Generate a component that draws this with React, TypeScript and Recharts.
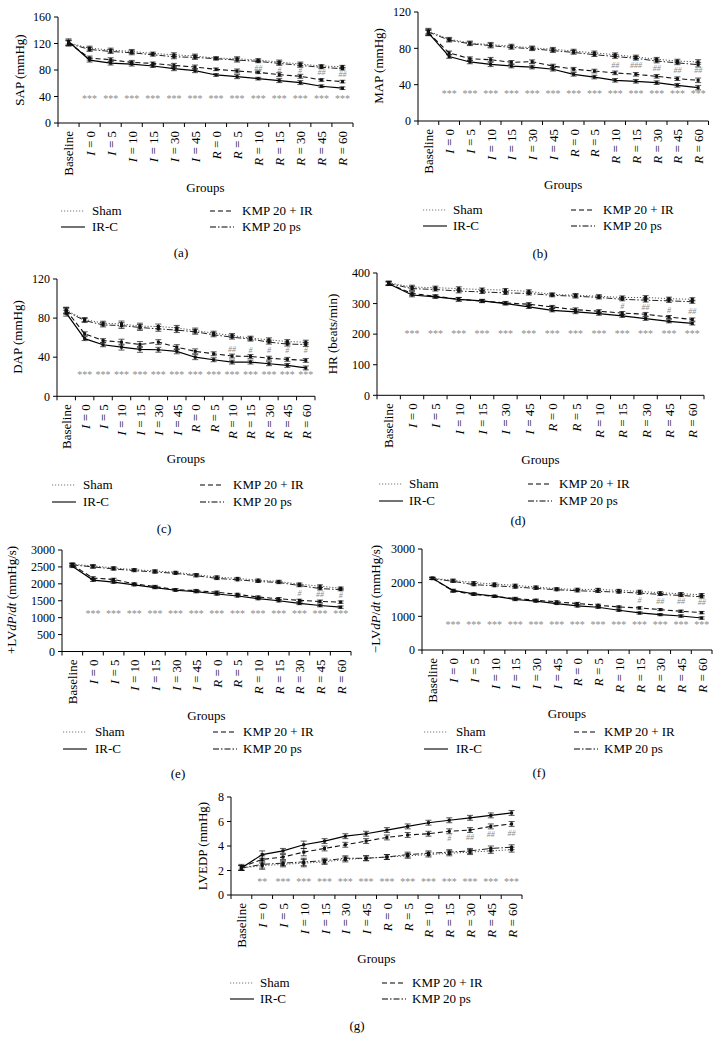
import React from 'react';
import { LineChart, Line, XAxis, YAxis, ErrorBar, LabelList } from 'recharts';

const FONT = '"Liberation Serif", "DejaVu Serif", serif';

const groups = ['Baseline', 'I = 0', 'I = 5', 'I = 10', 'I = 15', 'I = 30', 'I = 45',
  'R = 0', 'R = 5', 'R = 10', 'R = 15', 'R = 30', 'R = 45', 'R = 60'];

const starsAll = ['', '***', '***', '***', '***', '***', '***', '***', '***', '***', '***', '***', '***', '***'];
const starsLvedp = ['', '**', '***', '***', '***', '***', '***', '***', '***', '***', '***', '***', '***', '***'];

// (a) SAP
const sapSham = [121, 113, 110, 108, 105, 103, 101, 98, 97, 95, 92, 89, 86, 85];
const sapKmpPs = [120, 111, 108, 106, 103, 100, 99, 97, 95, 93, 90, 87, 84, 82];
const sapKmpIr = [121, 98, 95.5, 91.5, 90, 87, 84.5, 81, 78.5, 76.5, 73, 70.5, 65, 62.5];
const sapIrc = [123, 95, 90.5, 89, 86, 82, 79, 72.5, 70, 67, 64, 61, 55.5, 52.5];
const sapErr = [4, 3, 3, 3, 2, 3, 3, 2, 3, 2, 3, 3, 2, 2];
const sapHash = ['', '', '', '', '', '', '', '', '', '##', '#', '#', '##', '##'];
const sapHashY = [null, null, null, null, null, null, null, null, null, 82.5, 80, 80, 76.5, 73];

// (b) MAP
const mapSham = [99, 90, 86, 84, 82.5, 80.5, 79, 77, 75, 73, 70.5, 68, 66, 65];
const mapKmpPs = [98, 89, 85, 83, 81, 79.5, 77.5, 75.5, 73, 71, 69, 66, 64, 62];
const mapKmpIr = [97, 75, 68.6, 67.5, 64.6, 65.3, 60.5, 57, 55, 53, 51.4, 49.2, 46.6, 44.8];
const mapIrc = [97, 71, 65, 62.4, 60.5, 59.4, 57, 51.4, 48.4, 44.8, 43.7, 42.2, 39.3, 36.7];
const mapErr = [3, 2, 2, 2.5, 2, 2, 2, 2, 2, 2, 2, 2, 2, 2.5];
const mapHash = ['', '', '', '', '', '', '', '', '', '##', '###', '##', '##', '##'];
const mapHashY = [null, null, null, null, null, null, null, null, null, 61, 61, 58, 56, 56];

// (c) DAP
const dapSham = [88, 78.6, 74.8, 74, 71.8, 71.4, 70, 67.3, 64.6, 62.2, 59.5, 57.8, 56, 55.4];
const dapKmpPs = [87, 77.5, 73, 72.4, 70.4, 69, 67.7, 66, 62.9, 60.5, 58.5, 55.4, 53.4, 53];
const dapKmpIr = [88, 64, 57, 55.4, 53, 55.4, 50.3, 46, 43.5, 41.2, 40.8, 39, 37.8, 36.7];
const dapIrc = [85, 59, 52.7, 50.3, 48, 47.6, 46, 40, 37.4, 35, 35, 33.3, 31.6, 29];
const dapErr = [3, 2, 2, 3, 3, 2.5, 2.5, 2.5, 2, 2, 2, 2, 2, 2];
const dapHash = ['', '', '', '', '', '', '', '', '', '##', '#', '#', '#', '#'];
const dapHashY = [null, null, null, null, null, null, null, null, null, 48, 47, 47, 47, 47];

// (d) HR
const hrSham = [368, 354, 352, 349, 346, 344, 340, 330, 327, 324, 320, 320, 316, 314];
const hrKmpPs = [366, 349, 346, 341, 338, 335, 333, 327, 324, 320, 314, 311, 309, 306];
const hrKmpIr = [365, 333, 324, 314, 308, 302, 298, 289, 280, 275, 269, 265, 256, 248];
const hrIrc = [365, 328, 322, 314, 309, 300, 289, 278, 273, 267, 260, 251, 242, 235];
const hrErr = [6, 6, 5, 6, 5, 5, 5, 5, 6, 5, 5, 6, 5, 5];
const hrHash = ['', '', '', '', '', '', '', '', '', '', '#', '##', '#', '##'];
const hrHashY = [null, null, null, null, null, null, null, null, null, null, 291, 287, 278, 273];

// (e) +LVdP/dt
const posSham = [2580, 2530, 2470, 2420, 2380, 2340, 2270, 2200, 2160, 2110, 2070, 1990, 1930, 1870];
const posKmpPs = [2560, 2500, 2440, 2390, 2350, 2310, 2240, 2160, 2120, 2070, 2040, 1950, 1860, 1830];
const posKmpIr = [2560, 2170, 2130, 2000, 1920, 1830, 1800, 1750, 1690, 1610, 1560, 1510, 1480, 1460];
const posIrc = [2520, 2110, 2050, 1970, 1890, 1810, 1770, 1700, 1640, 1560, 1500, 1420, 1360, 1310];
const posErr = [40, 40, 35, 30, 35, 30, 35, 35, 30, 30, 35, 35, 40, 35];
const posHash = ['', '', '', '', '', '', '', '', '', '', '', '#', '##', '#'];
const posHashY = [null, null, null, null, null, null, null, null, null, null, null, 1700, 1690, 1660];

// (f) -LVdP/dt
const negSham = [2130, 2070, 2000, 1960, 1920, 1870, 1820, 1800, 1800, 1770, 1740, 1700, 1670, 1640];
const negKmpPs = [2120, 2040, 1940, 1910, 1870, 1830, 1790, 1760, 1740, 1720, 1690, 1650, 1620, 1580];
const negKmpIr = [2130, 1750, 1650, 1590, 1530, 1480, 1430, 1380, 1330, 1280, 1250, 1200, 1150, 1110];
const negIrc = [2130, 1770, 1670, 1600, 1500, 1450, 1380, 1310, 1270, 1180, 1100, 1050, 1010, 950];
const negErr = [30, 35, 30, 30, 35, 30, 30, 35, 30, 30, 35, 30, 35, 35];
const negHash = ['', '', '', '', '', '', '', '', '', '', '#', '##', '##', '##'];
const negHashY = [null, null, null, null, null, null, null, null, null, null, 1480, 1450, 1450, 1400];

// (g) LVEDP
const edpSham = [2.2, 2.4, 2.5, 2.6, 2.7, 2.9, 3.0, 3.1, 3.2, 3.3, 3.4, 3.5, 3.6, 3.7];
const edpKmpPs = [2.2, 2.5, 2.6, 2.7, 2.8, 3.0, 3.0, 3.1, 3.3, 3.4, 3.5, 3.6, 3.8, 3.9];
const edpKmpIr = [2.3, 2.9, 3.1, 3.5, 3.8, 4.1, 4.4, 4.7, 4.9, 5.0, 5.2, 5.3, 5.6, 5.8];
const edpIrc = [2.2, 3.3, 3.6, 4.1, 4.4, 4.8, 5.0, 5.3, 5.6, 5.9, 6.1, 6.3, 6.5, 6.7];
const edpErr = [0.2, 0.3, 0.2, 0.3, 0.2, 0.2, 0.2, 0.2, 0.2, 0.2, 0.2, 0.2, 0.2, 0.2];
const edpHash = ['', '', '', '', '', '', '', '', '', '', '#', '##', '##', '##'];
const edpHashY = [null, null, null, null, null, null, null, null, null, null, 4.6, 4.7, 4.9, 5.0];

const seriesStyle = {
  sham: { dash: '1.2 1.8', color: '#555', width: 1 },
  kmpPs: { dash: '6 2 1.5 2', color: '#222', width: 1 },
  kmpIr: { dash: '5 3', color: '#111', width: 1.1 },
  irc: { dash: undefined, color: '#000', width: 1.2 },
};

const squareDot = (p: any) => {
  const k = `d${p.index}`;
  if (p.cx == null || p.cy == null) return <g key={k} />;
  return <rect key={k} x={p.cx - 1.5} y={p.cy - 1.5} width={3} height={3} fill="#111" />;
};

const GroupTick = (props: any) => {
  const { x, y, payload, index, band, count } = props;
  const label: string = payload.value;
  const m = label.match(/^([IR]) = (\d+)$/);
  const ty = y + 8;
  return (
    <g>
      <line x1={x - band / 2} x2={x - band / 2} y1={y} y2={y + 4} stroke="#000" />
      {index === count - 1 && <line x1={x + band / 2} x2={x + band / 2} y1={y} y2={y + 4} stroke="#000" />}
      <text x={x} y={ty} transform={`rotate(-90 ${x} ${ty})`} textAnchor="end" dominantBaseline="central"
        fontSize={13} fontFamily={FONT} fill="#000">
        {m ? (<><tspan fontStyle="italic">{m[1]}</tspan><tspan>{` = ${m[2]}`}</tspan></>) : label}
      </text>
    </g>
  );
};

const starLabel = (p: any) => {
  if (!p.value) return null;
  return (
    <text x={p.x} y={p.y} textAnchor="middle" dominantBaseline="central" fontSize={10}
      fontFamily={FONT} fill="#8a8a8a">{p.value}</text>
  );
};

const hashLabel = (p: any) => {
  if (!p.value) return null;
  return (
    <text x={p.x} y={p.y} textAnchor="middle" dominantBaseline="central" fontSize={8}
      fontStyle="italic" fontFamily={FONT} fill="#8a8a8a">{p.value}</text>
  );
};

const LegendSample = ({ dash, color }: { dash?: string; color: string }) => (
  <svg width={24} height={6} style={{ display: 'block' }}>
    <line x1={0} x2={24} y1={3} y2={3} stroke={color} strokeWidth={1.1} strokeDasharray={dash} />
  </svg>
);

interface PanelProps {
  sham: number[]; kmpPs: number[]; kmpIr: number[]; irc: number[]; err: number[];
  stars: string[]; starLevel: number; hash: string[]; hashY: (number | null)[];
  yMax: number; yTicks: number[]; yLabel: React.ReactNode;
  L: number; R: number; T: number; B: number; labelDx: number;
  legendX: number[]; groupsDy: number; legendDy: number[]; captionDy: number; captionX: number;
  caption: string;
}

const YAXIS_W = 50;
const XAXIS_H = 60;
const TOP_M = 10;

const Panel = (p: PanelProps) => {
  const data = groups.map((g, i) => ({
    g,
    sham: p.sham[i], kmpPs: p.kmpPs[i], kmpIr: p.kmpIr[i], irc: p.irc[i], err: p.err[i],
    star: p.stars[i], starY: p.stars[i] ? p.starLevel : null,
    hash: p.hash[i], hashY: p.hashY[i],
  }));
  const plotW = p.R - p.L;
  const band = plotW / groups.length;
  const width = plotW + YAXIS_W + 8;
  const height = p.B - p.T + TOP_M + XAXIS_H;
  const textStyle: React.CSSProperties = {
    position: 'absolute', fontFamily: FONT, fontSize: 13, lineHeight: '16px', color: '#000', whiteSpace: 'nowrap',
  };
  const rows = [
    [{ key: 'sham', name: 'Sham' }, { key: 'kmpIr', name: 'KMP 20 + IR' }],
    [{ key: 'irc', name: 'IR-C' }, { key: 'kmpPs', name: 'KMP 20 ps' }],
  ];
  return (
    <>
      <div style={{ position: 'absolute', left: p.L - YAXIS_W, top: p.T - TOP_M }}>
        <LineChart width={width} height={height} data={data} margin={{ top: TOP_M, right: 8, left: 0, bottom: 0 }}>
          <XAxis dataKey="g" interval={0} height={XAXIS_H} padding={{ left: band / 2, right: band / 2 }}
            axisLine={{ stroke: '#000' }} tickLine={false} tickSize={0} tickMargin={0}
            tick={<GroupTick band={band} count={groups.length} />} />
          <YAxis domain={[0, p.yMax]} ticks={p.yTicks} interval={0} width={YAXIS_W} tickSize={4} tickMargin={3}
            axisLine={{ stroke: '#000' }} tickLine={{ stroke: '#000' }}
            tick={{ fontSize: 12, fill: '#000', fontFamily: FONT }} />
          {(['sham', 'kmpPs', 'kmpIr', 'irc'] as const).map((k) => (
            <Line key={k} dataKey={k} type="linear" stroke={seriesStyle[k].color}
              strokeWidth={seriesStyle[k].width} strokeDasharray={seriesStyle[k].dash}
              dot={squareDot} activeDot={false} isAnimationActive={false}>
              <ErrorBar dataKey="err" width={3} stroke="#111" strokeWidth={0.7} direction="y" />
            </Line>
          ))}
          <Line dataKey="starY" stroke="none" dot={false} activeDot={false} isAnimationActive={false}>
            <LabelList dataKey="star" content={starLabel} />
          </Line>
          <Line dataKey="hashY" stroke="none" dot={false} activeDot={false} isAnimationActive={false}>
            <LabelList dataKey="hash" content={hashLabel} />
          </Line>
        </LineChart>
      </div>
      <div style={{ ...textStyle, left: p.L + p.labelDx - 100, top: (p.T + p.B) / 2 - 8, width: 200,
        textAlign: 'center', transform: 'rotate(-90deg)' }}>{p.yLabel}</div>
      <div style={{ ...textStyle, left: (p.L + p.R) / 2 - 50, width: 100, textAlign: 'center',
        top: p.B + p.groupsDy - 8 }}>Groups</div>
      {rows.map((row, r) => row.map((item, c) => (
        <React.Fragment key={item.key}>
          <div style={{ position: 'absolute', left: p.legendX[c * 2], top: p.B + p.legendDy[r] - 3 }}>
            <LegendSample dash={seriesStyle[item.key as keyof typeof seriesStyle].dash}
              color={item.key === 'sham' ? '#777' : '#000'} />
          </div>
          <div style={{ ...textStyle, left: p.legendX[c * 2 + 1], top: p.B + p.legendDy[r] - 8 }}>{item.name}</div>
        </React.Fragment>
      )))}
      <div style={{ ...textStyle, left: p.captionX - 30, width: 60, textAlign: 'center',
        top: p.B + p.captionDy - 8 }}>{p.caption}</div>
    </>
  );
};

const dpdt = (sign: string) => (
  <span>{sign}LV<i>dP</i>/<i>dt</i> (mmHg/s)</span>
);

export default function App() {
  return (
    <div style={{ position: 'absolute', left: 0, top: 0, width: 722, height: 1052, background: '#fff', overflow: 'hidden' }}>
      <Panel sham={sapSham} kmpPs={sapKmpPs} kmpIr={sapKmpIr} irc={sapIrc} err={sapErr}
        stars={starsAll} starLevel={37.5} hash={sapHash} hashY={sapHashY}
        yMax={160} yTicks={[0, 40, 80, 120, 160]} yLabel="SAP (mmHg)"
        L={58} R={353} T={16.7} B={122.7} labelDx={-38}
        legendX={[61, 92, 210, 242]} groupsDy={65} legendDy={[88, 104]} captionDy={130} captionX={181} caption="(a)" />
      <Panel sham={mapSham} kmpPs={mapKmpPs} kmpIr={mapKmpIr} irc={mapIrc} err={mapErr}
        stars={starsAll} starLevel={30} hash={mapHash} hashY={mapHashY}
        yMax={120} yTicks={[0, 40, 80, 120]} yLabel="MAP (mmHg)"
        L={418} R={708.5} T={11.7} B={120.7} labelDx={-39}
        legendX={[423, 453, 571, 603]} groupsDy={64} legendDy={[89, 105]} captionDy={133} captionX={540} caption="(b)" />
      <Panel sham={dapSham} kmpPs={dapKmpPs} kmpIr={dapKmpIr} irc={dapIrc} err={dapErr}
        stars={starsAll} starLevel={22.4} hash={dapHash} hashY={dapHashY}
        yMax={120} yTicks={[0, 40, 80, 120]} yLabel="DAP (mmHg)"
        L={57} R={315} T={278.7} B={396} labelDx={-39}
        legendX={[52, 83, 200, 233]} groupsDy={63} legendDy={[89, 106]} captionDy={133} captionX={164} caption="(c)" />
      <Panel sham={hrSham} kmpPs={hrKmpPs} kmpIr={hrKmpIr} irc={hrIrc} err={hrErr}
        stars={starsAll} starLevel={202} hash={hrHash} hashY={hrHashY}
        yMax={400} yTicks={[0, 100, 200, 300, 400]} yLabel="HR (beats/min)"
        L={377} R={704} T={272.7} B={395} labelDx={-44}
        legendX={[379, 409, 528, 559]} groupsDy={65} legendDy={[89, 106]} captionDy={126} captionX={518} caption="(d)" />
      <Panel sham={posSham} kmpPs={posKmpPs} kmpIr={posKmpIr} irc={posIrc} err={posErr}
        stars={starsAll} starLevel={1113} hash={posHash} hashY={posHashY}
        yMax={3000} yTicks={[0, 500, 1000, 1500, 2000, 2500, 3000]} yLabel={dpdt('+')}
        L={62} R={351} T={549.5} B={651} labelDx={-50}
        legendX={[63, 95, 213, 243]} groupsDy={65} legendDy={[81, 98]} captionDy={123} captionX={178} caption="(e)" />
      <Panel sham={negSham} kmpPs={negKmpPs} kmpIr={negKmpIr} irc={negIrc} err={negErr}
        stars={starsAll} starLevel={752} hash={negHash} hashY={negHashY}
        yMax={3000} yTicks={[0, 1000, 2000, 3000]} yLabel={dpdt('\u2212')}
        L={422} R={712} T={548.7} B={649.7} labelDx={-46}
        legendX={[424, 456, 574, 604]} groupsDy={64} legendDy={[82, 99]} captionDy={123} captionX={539} caption="(f)" />
      <Panel sham={edpSham} kmpPs={edpKmpPs} kmpIr={edpKmpIr} irc={edpIrc} err={edpErr}
        stars={starsLvedp} starLevel={1.1} hash={edpHash} hashY={edpHashY}
        yMax={8} yTicks={[0, 2, 4, 6, 8]} yLabel="LVEDP (mmHg)"
        L={231} R={522} T={797} B={895} labelDx={-28}
        legendX={[230, 260, 382, 412]} groupsDy={64} legendDy={[88, 104]} captionDy={131} captionX={357} caption="(g)" />
    </div>
  );
}
